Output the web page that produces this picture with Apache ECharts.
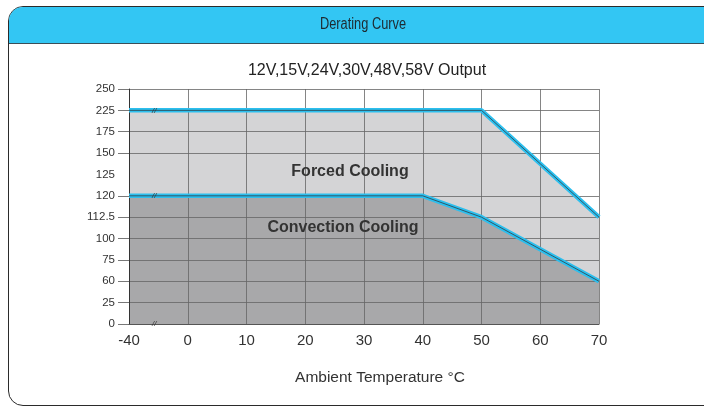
<!DOCTYPE html>
<html><head><meta charset="utf-8">
<script src="https://cdn.jsdelivr.net/npm/echarts@6/dist/echarts.min.js"></script>
<style>
html,body{margin:0;padding:0;background:#fff;}
#wrap{position:relative;width:704px;height:410px;overflow:hidden;background:#fff;}
#panel{position:absolute;left:8px;top:6px;width:730px;height:400px;border:1.5px solid #2b2b2b;border-radius:15px;background:#fff;box-sizing:border-box;overflow:hidden}
#head{position:absolute;left:0;top:0;right:0;height:36px;background:#33c6f3;border-bottom:1.5px solid #3b4e57;}
#chart{position:absolute;left:0;top:0;width:704px;height:410px;}
</style></head>
<body>
<div id="wrap"><div id="panel"><div id="head"></div></div><div id="chart"></div></div>
<script>
const xCategories = ['-40','0','10','20','30','40','50','60','70'];
const yCategories = ['0','25','60','75','100','112.5','120','125','150','175','225','250'];
const forcedTemp = ['-40','50','70'];
const forcedPower = ['225','225','112.5'];
const convTemp = ['-40','40','50','70'];
const convPower = ['120','120','112.5','60'];
const breakLevels = ['225','120','0'];

const pair = (xs, ys) => xs.map((x, i) => [x, ys[i]]);
const forcedData = pair(forcedTemp, forcedPower);
const convData = pair(convTemp, convPower);

const chart = echarts.init(document.getElementById('chart'), null, {renderer: 'canvas'});
const FONT = "'Liberation Sans', Arial, sans-serif";
const cyan = '#2cbfee';

const option = {
  backgroundColor: 'transparent',
  animation: false,
  grid: {left: 129, right: 105, top: 89, bottom: 86},
  xAxis: {
    type: 'category', data: xCategories, boundaryGap: false, z: 2,
    axisLine: {lineStyle: {color: '#555', width: 1}},
    axisTick: {show: false},
    axisLabel: {color: '#333', fontSize: 15, fontFamily: FONT, margin: 9},
    splitLine: {show: true, lineStyle: {color: '#666', width: 0.8}}
  },
  yAxis: {
    type: 'category', data: yCategories, boundaryGap: false, z: 2,
    axisLine: {lineStyle: {color: '#333', width: 1}},
    axisTick: {show: true, length: 11, lineStyle: {color: '#555', width: 0.8},
      interval: (i, v) => v !== '125'},
    axisLabel: {color: '#333', fontSize: 11.5, fontFamily: FONT, margin: 14},
    splitLine: {show: true, lineStyle: {color: '#666', width: 0.8},
      interval: (i, v) => v !== '125' && v !== '0'}
  },
  series: [
    {type: 'line', data: forcedData, symbol: 'none', z: 1,
     lineStyle: {width: 0}, areaStyle: {color: '#d4d4d6', opacity: 1, origin: 'start'}},
    {type: 'line', data: convData, symbol: 'none', z: 1,
     lineStyle: {width: 0}, areaStyle: {color: '#a8a8aa', opacity: 1, origin: 'start'}},
    {type: 'line', data: forcedData, symbol: 'none', z: 3,
     lineStyle: {color: cyan, width: 4.5}},
    {type: 'line', data: convData, symbol: 'none', z: 3,
     lineStyle: {color: cyan, width: 4.5}},
    {type: 'line', data: forcedData, symbol: 'none', z: 4,
     lineStyle: {color: '#2f3d46', width: 0.8}},
    {type: 'line', data: convData, symbol: 'none', z: 4,
     lineStyle: {color: '#2f3d46', width: 0.8}}
  ]
};
chart.setOption(option);

const p = (x, y) => chart.convertToPixel({xAxisIndex: 0, yAxisIndex: 0}, [x, y]);
const x0 = p('-40', '0')[0], x1 = p('0', '0')[0];
const bx = x0 + 0.43 * (x1 - x0);
const graphics = [
  {type: 'text', x: 363, y: 25, scaleX: 0.8, z: 10, style: {text: 'Derating Curve', fill: '#1e2a30',
    font: "16px " + FONT, textAlign: 'center', textVerticalAlign: 'middle'}},
  {type: 'text', x: 367, y: 71, z: 10, style: {text: '12V,15V,24V,30V,48V,58V Output', fill: '#222',
    font: "16px " + FONT, textAlign: 'center', textVerticalAlign: 'middle'}},
  {type: 'text', x: 380, y: 378, z: 10, style: {text: 'Ambient Temperature °C', fill: '#333',
    font: "15.5px " + FONT, textAlign: 'center', textVerticalAlign: 'middle'}},
  {type: 'text', x: 350, y: p('30', '120')[1] - 24, z: 10, style: {text: 'Forced Cooling', fill: '#333',
    font: "bold 16px " + FONT, textAlign: 'center', textVerticalAlign: 'middle'}},
  {type: 'text', x: 343, y: p('30', '120')[1] + 32, z: 10, style: {text: 'Convection Cooling', fill: '#333',
    font: "bold 16px " + FONT, textAlign: 'center', textVerticalAlign: 'middle'}}
];
breakLevels.forEach(lv => {
  graphics.push({type: 'text', x: bx, y: p('-40', lv)[1], z: 10, style: {text: '//', fill: '#333',
    font: "italic 8px " + FONT, textAlign: 'center', textVerticalAlign: 'middle'}});
});
chart.setOption({graphic: graphics});
</script>
</body></html>
